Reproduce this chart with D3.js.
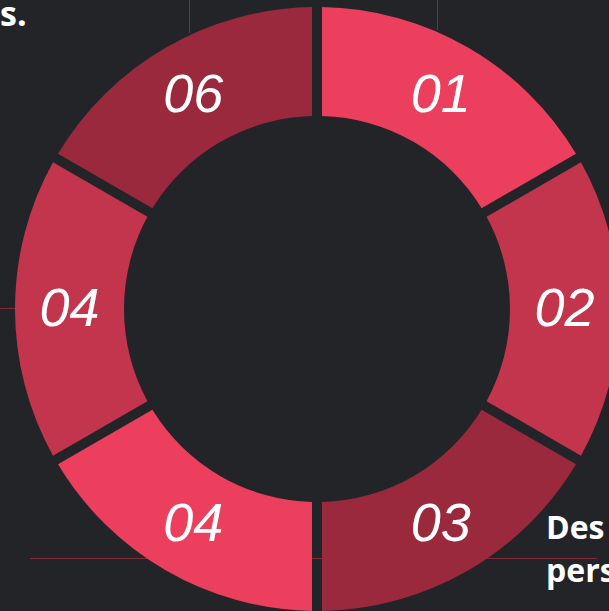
<!DOCTYPE html>
<html>
<head>
<meta charset="utf-8">
<script src="https://cdn.jsdelivr.net/npm/d3@7"></script>
<style>
  body { margin: 0; background: #232428; overflow: hidden; }
  .num { font-family: "Liberation Sans", Arial, sans-serif; font-style: italic; fill: #fff; }
  .side { font-family: "Open Sans", sans-serif; font-weight: 700; fill: #fff; }
</style>
</head>
<body>
<div class="chart"></div>
<script>
// Donut of six equal steps

var svgWidth = 609;
var svgHeight = 611;

// chart data
var stepLabels = ["01", "02", "03", "04", "04", "06"];
var stepValues = [1, 1, 1, 1, 1, 1];
var stepColors = ["#eb3f5d", "#c3344d", "#9a293d", "#eb3f5d", "#c3344d", "#9a293d"];

var cx = 317, cy = 309;
var outerR = 302, innerR = 193;
var gap = 10;

var svg = d3.select(".chart")
  .append("svg")
  .attr("width", svgWidth)
  .attr("height", svgHeight);

svg.append("rect")
  .attr("width", svgWidth)
  .attr("height", svgHeight)
  .attr("fill", "#232428");

// thin guide lines from the slide behind the chart
var guides = svg.append("g")
  .attr("stroke", "#7e2a38")
  .attr("stroke-width", 1);
guides.append("line").attr("x1", 189.5).attr("y1", 0).attr("x2", 189.5).attr("y2", 33);
guides.append("line").attr("x1", 437.5).attr("y1", 0).attr("x2", 437.5).attr("y2", 30);
guides.append("line").attr("x1", 0).attr("y1", 308.5).attr("x2", 16).attr("y2", 308.5);
guides.append("line").attr("x1", 30).attr("y1", 558.5).attr("x2", 597).attr("y2", 558.5);

var chartGroup = svg.append("g")
  .attr("transform", `translate(${cx}, ${cy})`);

var pie = d3.pie()
  .sort(null)
  .value(d => d);

var arc = d3.arc()
  .innerRadius(innerR)
  .outerRadius(outerR)
  .padAngle(gap / outerR)
  .padRadius(outerR);

var arcs = pie(stepValues);

chartGroup.selectAll("path")
  .data(arcs)
  .enter()
  .append("path")
  .attr("d", arc)
  .attr("fill", (d, i) => stepColors[i]);

chartGroup.selectAll("text.num")
  .data(arcs)
  .enter()
  .append("text")
  .attr("class", "num")
  .attr("transform", d => `translate(${arc.centroid(d)})`)
  .attr("text-anchor", "middle")
  .attr("dy", "0.32em")
  .attr("font-size", "54px")
  .text((d, i) => stepLabels[i]);

// slide text cut by the frame edges
svg.append("text")
  .attr("class", "side")
  .attr("x", 0)
  .attr("y", 26)
  .attr("font-size", "34px")
  .text("s.");

svg.append("text")
  .attr("class", "side")
  .attr("x", 546)
  .attr("y", 539)
  .attr("font-size", "32px")
  .text("Des");

svg.append("text")
  .attr("class", "side")
  .attr("x", 546)
  .attr("y", 582)
  .attr("font-size", "32px")
  .text("pers");
</script>
</body>
</html>
